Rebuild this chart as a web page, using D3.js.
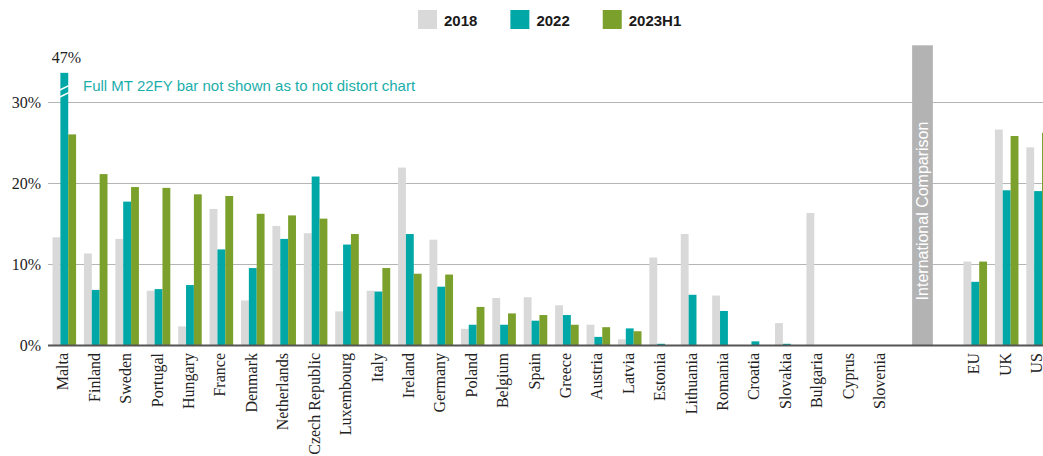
<!DOCTYPE html>
<html>
<head>
<meta charset="utf-8">
<script src="https://cdn.jsdelivr.net/npm/d3@7"></script>
<style>
  html, body { margin: 0; padding: 0; background: #fff; }
  svg { display: block; }
</style>
</head>
<body>
<svg id="chart" width="1043" height="456"></svg>
<script>
// Member-state categories, ordered by 2023H1 share
const countries = ["Malta", "Finland", "Sweden", "Portugal", "Hungary", "France", "Denmark",
  "Netherlands", "Czech Republic", "Luxembourg", "Italy", "Ireland", "Germany", "Poland",
  "Belgium", "Spain", "Greece", "Austria", "Latvia", "Estonia", "Lithuania", "Romania",
  "Croatia", "Slovakia", "Bulgaria", "Cyprus", "Slovenia"];
// Benchmarks shown after the separator
const benchmarks = ["EU", "UK", "US"];

const seriesNames = ["2018", "2022", "2023H1"];
const seriesColors = ["#d9d9d9", "#00a7a7", "#7ba12c"];

// Shares in percent (null = no bar)
const values2018 = [13.3, 11.3, 13.1, 6.7, 2.3, 16.8, 5.5, 14.7, 13.8, 4.15, 6.7, 21.9, 13.0, 2.0,
  5.8, 5.9, 4.9, 2.5, 0.7, 10.8, 13.7, 6.1, null, 2.7, 16.3, null, null];
const values2022 = [47, 6.8, 17.7, 6.9, 7.4, 11.8, 9.5, 13.1, 20.8, 12.4, 6.6, 13.7, 7.2, 2.5,
  2.5, 3.0, 3.7, 1.0, 2.05, 0.15, 6.2, 4.2, 0.45, 0.15, null, null, null];
const values2023 = [26.0, 21.1, 19.5, 19.4, 18.6, 18.4, 16.2, 16.0, 15.6, 13.7, 9.5, 8.8, 8.7, 4.7,
  3.9, 3.7, 2.5, 2.2, 1.7, null, null, null, null, null, null, null, null];

const bench2018 = [10.3, 26.6, 24.4];
const bench2022 = [7.8, 19.1, 19.0];
const bench2023 = [10.3, 25.8, 26.2];

const yTicks = [0, 10, 20, 30];
const yTickLabels = ["0%", "10%", "20%", "30%"];

// Bars taller than this are cut with a break mark
const breakAt = 33.6;
const breakNote = "Full MT 22FY bar not shown as to not distort chart";
const separatorLabel = "International Comparison";

// ---- build rows ----
const gapSlots = ["__gapA", "__gapB"];
const slots = countries.concat(gapSlots, benchmarks);
const rows = [];
countries.forEach((c, i) => {
  rows.push({ cat: c, values: [values2018[i], values2022[i], values2023[i]] });
});
benchmarks.forEach((c, i) => {
  rows.push({ cat: c, values: [bench2018[i], bench2022[i], bench2023[i]] });
});

const svg = d3.select("#chart");
const W = 1043;
const baseY = 345;
const plotLeft = 48;
const serif = "'Liberation Serif', 'Times New Roman', serif";
const sans = "'Liberation Sans', Arial, sans-serif";

const x = d3.scaleBand().domain(slots).range([48.6, 1053.8]).padding(0);
const xs = d3.scaleBand().domain(seriesNames).range([0, x.bandwidth()]).paddingInner(0).paddingOuter(0.5);
const y = d3.scaleLinear().domain([0, 37]).range([baseY, 45.3]);

// gridlines
svg.append("g").selectAll("line")
  .data(yTicks.filter(d => d > 0))
  .join("line")
  .attr("x1", plotLeft).attr("x2", W)
  .attr("y1", d => Math.round(y(d)) + 0.5).attr("y2", d => Math.round(y(d)) + 0.5)
  .attr("stroke", "#b5b5b5").attr("stroke-width", 1);

// y tick labels
svg.append("g").selectAll("text")
  .data(yTicks)
  .join("text")
  .attr("x", 41).attr("y", d => y(d)).attr("dy", "0.35em")
  .attr("text-anchor", "end")
  .style("font-family", serif)
  .attr("font-size", 16).attr("fill", "#222")
  .text((d, i) => yTickLabels[i]);

// bars
const barData = [];
rows.forEach(r => {
  r.values.forEach((v, k) => {
    if (v != null) barData.push({ cat: r.cat, series: seriesNames[k], color: seriesColors[k], value: v });
  });
});
svg.append("g").selectAll("rect")
  .data(barData)
  .join("rect")
  .attr("x", d => x(d.cat) + xs(d.series))
  .attr("width", xs.bandwidth())
  .attr("y", d => y(Math.min(d.value, breakAt)))
  .attr("height", d => baseY - y(Math.min(d.value, breakAt)))
  .attr("fill", d => d.color);

// break marks and full value on cut bars
const cut = barData.filter(d => d.value > breakAt);
cut.forEach(d => {
  const x0 = x(d.cat) + xs(d.series);
  const x1 = x0 + xs.bandwidth();
  const top = y(breakAt);
  [15, 22].forEach(off => {
    svg.append("line")
      .attr("x1", x0 - 0.5).attr("y1", top + off + 2.2)
      .attr("x2", x1 + 0.5).attr("y2", top + off - 2.2)
      .attr("stroke", "#fff").attr("stroke-width", 1.6);
  });
  svg.append("text")
    .attr("x", x(d.cat) + x.bandwidth() / 2 + 2)
    .attr("y", top - 10)
    .attr("text-anchor", "middle")
    .style("font-family", serif)
    .attr("font-size", 16).attr("fill", "#222")
    .text(d3.format(".0f")(d.value) + "%");
});

// note beside the cut bar
svg.append("text")
  .attr("x", 83).attr("y", 91)
  .style("font-family", sans)
  .attr("font-size", 15).attr("fill", "#1aaeab")
  .text(breakNote);

// separator band before the benchmarks
const bandCenter = x(gapSlots[1]) - 0.18 * x.bandwidth();
const bandW = 0.66 * x.bandwidth();
svg.append("rect")
  .attr("x", bandCenter - bandW / 2).attr("width", bandW)
  .attr("y", y(37)).attr("height", baseY - y(37))
  .attr("fill", "#b3b3b3");
svg.append("text")
  .attr("transform", `translate(${bandCenter},211) rotate(-90)`)
  .attr("dy", "0.35em")
  .attr("text-anchor", "middle")
  .style("font-family", sans)
  .attr("font-size", 16).attr("fill", "#fff")
  .text(separatorLabel);

// baseline
svg.append("line")
  .attr("x1", plotLeft).attr("x2", W)
  .attr("y1", baseY + 0.5).attr("y2", baseY + 0.5)
  .attr("stroke", "#555").attr("stroke-width", 2);

// category labels
const xAxis = d3.axisBottom(x).tickSize(0).tickPadding(0)
  .tickFormat(d => gapSlots.includes(d) ? "" : d);
const gx = svg.append("g").attr("transform", `translate(-1.5,${baseY})`).call(xAxis);
gx.select(".domain").remove();
gx.selectAll("text")
  .attr("transform", "rotate(-90)")
  .attr("x", -8).attr("y", 0).attr("dy", "0.35em")
  .attr("text-anchor", "end")
  .style("font-family", serif)
  .attr("font-size", 16).attr("fill", "#222");

// legend
const legend = svg.append("g");
let lx = 418;
seriesNames.forEach((name, i) => {
  const g = legend.append("g").attr("transform", `translate(${lx},10)`);
  g.append("rect").attr("width", 19).attr("height", 19).attr("fill", seriesColors[i]);
  const t = g.append("text")
    .attr("x", 26).attr("y", 16)
    .style("font-family", sans)
    .attr("font-weight", "bold")
    .attr("font-size", 15).attr("fill", "#1a1a1a")
    .text(name);
  lx += 26 + t.node().getComputedTextLength() + 33;
});
</script>
</body>
</html>
